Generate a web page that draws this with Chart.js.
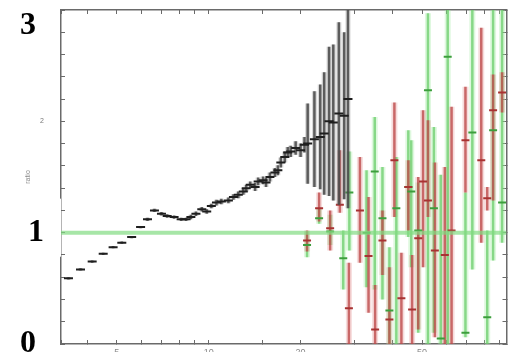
<!DOCTYPE html>
<html><head><meta charset="utf-8">
<script src="https://cdn.jsdelivr.net/npm/chart.js@4.4.1/dist/chart.umd.min.js"></script>
<style>html,body{margin:0;padding:0;background:#fff;}canvas{display:block;}</style>
</head><body>
<canvas id="c" width="513" height="352"></canvas>
<script>
// axis ranges and labels
const xMin = 3.28, xMax = 94.6;
const yMin = 0, yMax = 3;
const refValue = 1;
const xLabelValues = [5, 10, 20, 50];
const yLabelValues = [0, 1, 2, 3];

// black series: ratio points (energy, ratio, error)
const blackX = [3.47, 3.80, 4.15, 4.51, 4.86, 5.19, 5.59, 5.98, 6.30, 6.64, 7.00, 7.31, 7.70, 8.12, 8.43, 8.74, 9.08, 9.49, 9.85, 10.2, 10.6, 11.0, 11.6, 12.05, 12.5, 12.98, 13.27, 13.68, 14.19, 14.52, 15.07, 15.41, 15.87, 16.48, 16.85, 17.23, 17.75, 18.15, 18.56, 19.27, 20.0, 20.6, 21.1, 22.2, 23.2, 23.9, 24.8, 25.6, 26.7, 27.8, 28.6];
const blackY = [0.59, 0.67, 0.74, 0.81, 0.87, 0.91, 0.96, 1.05, 1.12, 1.20, 1.17, 1.15, 1.14, 1.12, 1.12, 1.14, 1.17, 1.21, 1.19, 1.24, 1.27, 1.28, 1.29, 1.32, 1.34, 1.37, 1.40, 1.43, 1.41, 1.46, 1.47, 1.45, 1.50, 1.54, 1.56, 1.63, 1.68, 1.72, 1.73, 1.76, 1.74, 1.79, 1.80, 1.84, 1.86, 1.89, 2.00, 1.99, 2.07, 2.05, 2.20];
const blackErr = [0.01, 0.01, 0.01, 0.01, 0.01, 0.01, 0.01, 0.01, 0.015, 0.015, 0.015, 0.015, 0.015, 0.015, 0.015, 0.02, 0.02, 0.02, 0.02, 0.02, 0.025, 0.025, 0.025, 0.025, 0.03, 0.03, 0.03, 0.03, 0.035, 0.035, 0.035, 0.04, 0.04, 0.04, 0.045, 0.045, 0.05, 0.05, 0.05, 0.06, 0.06, 0.07, 0.36, 0.43, 0.47, 0.55, 0.67, 0.70, 0.82, 0.75, 0.98];

// red series
const redX  = [21.0, 23.0, 25.0, 26.9, 28.8, 31.3, 33.4, 35.1, 37.1, 39.1, 40.6, 42.8, 45.1, 46.4, 48.6, 50.4, 52.3, 55.1, 59.4, 62.5, 69.4, 78.2, 81.8, 85.5, 91.5];
const redY  = [0.93, 1.22, 1.04, 1.25, 0.32, 1.20, 0.79, 0.13, 0.93, 0.22, 1.65, 0.41, 1.41, 0.31, 0.95, 1.46, 1.29, 0.84, 0.80, 1.02, 1.83, 1.65, 1.31, 2.10, 2.26];
const redLo = [0.83, 1.10, 0.84, 1.18, 0.00, 0.73, 0.28, 0.00, 0.62, 0.00, 1.14, 0.00, 1.02, 0.00, 0.13, 0.69, 1.14, 0.06, 0.00, 0.00, 1.36, 0.91, 1.20, 1.29, 2.08];
const redHi = [1.02, 1.36, 1.20, 1.74, 0.73, 1.68, 1.32, 0.53, 1.20, 0.69, 2.17, 0.82, 1.65, 0.80, 1.50, 2.10, 2.01, 1.63, 1.59, 2.13, 2.31, 2.84, 1.41, 2.42, 2.44];

// green series
const greenX  = [21.0, 23.0, 25.0, 27.6, 28.9, 32.9, 35.0, 37.1, 39.1, 41.2, 45.1, 46.1, 48.6, 52.3, 54.7, 57.6, 60.7, 69.4, 73.1, 81.8, 85.5, 91.5];
const greenY  = [0.89, 1.13, 1.01, 0.77, 1.36, 1.00, 1.55, 1.13, 0.30, 1.22, 1.41, 1.37, 1.02, 2.28, 1.22, 0.05, 2.58, 0.10, 1.90, 0.24, 1.92, 1.27];
const greenLo = [0.78, 1.08, 0.89, 0.49, 0.84, 0.51, 0.49, 0.40, 0.00, 0.00, 0.96, 0.69, 0.10, 0.00, 0.10, 0.00, 0.00, 0.06, 0.67, 0.00, 0.75, 0.91];
const greenHi = [1.01, 1.22, 1.16, 1.02, 1.73, 1.56, 2.04, 1.59, 0.87, 1.68, 1.92, 1.83, 1.45, 2.97, 1.95, 1.52, 3.20, 1.36, 3.20, 1.02, 3.20, 3.20];

function bars(xs, lo, hi) {
  const out = [];
  xs.forEach((x, i) => { out.push({x: x, y: lo[i]}, {x: x, y: hi[i]}, {x: x, y: null}); });
  return out;
}
function pts(xs, ys) { return xs.map((x, i) => ({x: x, y: ys[i]})); }
const near = (a, b) => Math.abs(a - b) < 1e-6 * Math.max(1, Math.abs(b));
const tickIs = (ctx, v) => !!(ctx && ctx.tick && near(ctx.tick.value, v));
function fixBox(w, h) {
  return s => {
    if (w !== null) s.width = w;
    if (h !== null) s.height = h;
    s.paddingTop = 0; s.paddingBottom = 0; s.paddingLeft = 0; s.paddingRight = 0;
  };
}

const blackBars = bars(blackX, blackX.map((x, i) => blackY[i] - blackErr[i]), blackX.map((x, i) => blackY[i] + blackErr[i]));
const redBars = bars(redX, redLo, redHi);
const greenBars = bars(greenX, greenLo, greenHi);
const lineDs = (data, color, width) => ({data: data, showLine: true, borderColor: color, borderWidth: width, pointRadius: 0, clip: 0});

const axisColor = '#6a6a6a';
const bigFont = {family: 'Liberation Serif', size: 32, weight: 'bold', lineHeight: 1.0};
const smallFont = {family: 'Liberation Sans', size: 7, lineHeight: 1.0};

new Chart(document.getElementById('c'), {
  type: 'scatter',
  data: {
    datasets: [
      {data: pts(blackX, blackY), pointStyle: 'line', pointRadius: 4.5, pointBorderWidth: 2, pointBorderColor: '#1e1e1e', showLine: false, clip: 0},
      lineDs(blackBars, 'rgba(70,70,70,0.85)', 2.5),
      lineDs(blackBars, 'rgba(120,120,120,0.3)', 5),
      lineDs([{x: xMin, y: refValue}, {x: xMax, y: refValue}], 'rgba(130,220,130,0.7)', 4),
      {data: pts(redX, redY), pointStyle: 'line', pointRadius: 4, pointBorderWidth: 2, pointBorderColor: '#a83232', showLine: false, clip: 0},
      {data: pts(greenX, greenY), pointStyle: 'line', pointRadius: 4, pointBorderWidth: 2, pointBorderColor: '#3c9e3c', showLine: false, clip: 0},
      lineDs(redBars, 'rgba(190,75,75,0.8)', 2.5),
      lineDs(greenBars, 'rgba(105,205,105,0.75)', 2.5),
      lineDs(redBars, 'rgba(225,140,140,0.3)', 6),
      lineDs(greenBars, 'rgba(160,235,160,0.35)', 6)
    ]
  },
  options: {
    responsive: false,
    animation: false,
    devicePixelRatio: 1,
    layout: {padding: 0},
    plugins: {legend: {display: false}, tooltip: {enabled: false}},
    scales: {
      x: {
        type: 'logarithmic', position: 'bottom', min: xMin, max: xMax,
        afterFit: fixBox(null, 8),
        border: {display: true, color: axisColor, width: 1.5},
        grid: {drawOnChartArea: false, drawTicks: true, tickLength: -4, color: axisColor},
        ticks: {autoSkip: false, maxRotation: 0, padding: 7, color: '#888',
          font: {family: 'Liberation Sans', size: 9},
          callback: v => xLabelValues.some(t => near(v, t)) ? String(v) : ''}
      },
      x2: {
        type: 'logarithmic', position: 'top', min: xMin, max: xMax,
        afterFit: fixBox(null, 10),
        border: {display: true, color: axisColor, width: 1.5},
        grid: {drawOnChartArea: false, drawTicks: true, tickLength: -4, color: axisColor},
        ticks: {display: false, autoSkip: false}
      },
      y: {
        type: 'linear', position: 'left', min: yMin, max: yMax,
        afterFit: fixBox(61, null),
        border: {display: true, color: axisColor, width: 1.5},
        grid: {drawOnChartArea: false, drawTicks: true, tickLength: -4, color: axisColor},
        title: {display: true, text: 'ratio', color: '#888', font: {family: 'Liberation Sans', size: 7}, padding: {top: 24, bottom: 0}},
        ticks: {
          stepSize: 0.2, autoSkip: false, padding: 21,
          callback: v => {
            if (near(v, 3)) return ['', '3 '];
            if (near(v, 0)) return '0 ';
            if (yLabelValues.some(t => near(v, t))) return String(v);
            return '';
          },
          font: ctx => tickIs(ctx, 2) ? smallFont : bigFont,
          color: ctx => tickIs(ctx, 2) ? '#777' : '#000',
          showLabelBackdrop: ctx => tickIs(ctx, 1),
          backdropColor: '#ffffff',
          backdropPadding: {top: 18, bottom: 8, left: 28, right: 19}
        }
      },
      y2: {
        type: 'linear', position: 'right', min: yMin, max: yMax,
        afterFit: fixBox(1, null),
        border: {display: true, color: axisColor, width: 1.5},
        grid: {drawOnChartArea: false, drawTicks: true, tickLength: -4, color: axisColor},
        ticks: {display: false, stepSize: 0.2}
      }
    }
  }
});
</script>
</body></html>
